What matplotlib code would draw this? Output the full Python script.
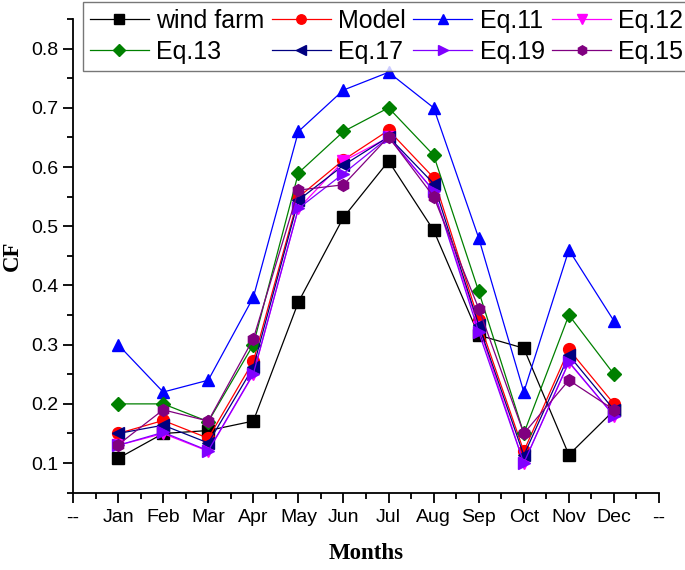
import numpy as np
import matplotlib
matplotlib.use("Agg")
import matplotlib.pyplot as plt
from matplotlib.ticker import MultipleLocator

months = ["Jan", "Feb", "Mar", "Apr", "May", "Jun", "Jul", "Aug", "Sep", "Oct", "Nov", "Dec"]

wind_farm = [0.108, 0.150, 0.155, 0.171, 0.372, 0.515, 0.610, 0.493, 0.316, 0.294, 0.114, 0.189]
model = [0.150, 0.172, 0.142, 0.272, 0.549, 0.612, 0.662, 0.582, 0.341, 0.120, 0.292, 0.200]
eq11 = [0.300, 0.220, 0.240, 0.380, 0.660, 0.730, 0.760, 0.700, 0.480, 0.220, 0.460, 0.340]
eq12 = [0.130, 0.150, 0.120, 0.250, 0.530, 0.610, 0.650, 0.560, 0.330, 0.100, 0.270, 0.180]
eq13 = [0.200, 0.200, 0.170, 0.300, 0.590, 0.660, 0.700, 0.620, 0.390, 0.150, 0.350, 0.250]
eq17 = [0.150, 0.164, 0.134, 0.262, 0.544, 0.603, 0.651, 0.572, 0.333, 0.113, 0.282, 0.190]
eq19 = [0.130, 0.152, 0.121, 0.251, 0.530, 0.589, 0.650, 0.560, 0.321, 0.100, 0.271, 0.180]
eq15 = [0.131, 0.190, 0.171, 0.310, 0.561, 0.570, 0.651, 0.550, 0.361, 0.150, 0.240, 0.190]

series = [
    ("wind farm", wind_farm, "black", "s"),
    ("Model", model, "red", "o"),
    ("Eq.11", eq11, "#0000ff", "^"),
    ("Eq.12", eq12, "#ff00ff", "v"),
    ("Eq.13", eq13, "#008000", "D"),
    ("Eq.17", eq17, "#000080", "<"),
    ("Eq.19", eq19, "#8000ff", ">"),
    ("Eq.15", eq15, "#800080", "h"),
]

plt.rcParams["font.family"] = ["Liberation Sans", "DejaVu Sans"]

fig = plt.figure(figsize=(6.85, 5.70), dpi=100)
ax = fig.add_axes([0.1066, 0.1356, 0.8555, 0.8311])

x = np.arange(1, 13)
handles = []
for name, vals, col, mk in series:
    ms = 8.5 if mk != "D" else 7.5
    h, = ax.plot(x, vals, color=col, marker=mk, markersize=ms, linewidth=0.9,
                 label=name)
    handles.append(h)

ax.set_xlim(0, 13)
ax.set_ylim(0.05, 0.85)
ax.set_xticks(range(0, 14))
ax.set_xticklabels(["--"] + months + ["--"])
ax.xaxis.set_minor_locator(MultipleLocator(0.5))
ax.yaxis.set_major_locator(MultipleLocator(0.1))
ax.yaxis.set_minor_locator(MultipleLocator(0.05))
ax.yaxis.set_major_formatter(plt.FuncFormatter(lambda v, p: f"{v:.1f}"))

for s in ["top", "right"]:
    ax.spines[s].set_visible(False)
for s in ["left", "bottom"]:
    ax.spines[s].set_linewidth(1.3)

ax.tick_params(which="major", direction="out", length=7, width=1.3, labelsize=14)
ax.tick_params(which="minor", direction="out", length=4, width=1.3)
ax.tick_params(axis="x", pad=5)

ax.set_xlabel("Months", fontfamily="Liberation Serif", fontweight="bold", fontsize=16.5, labelpad=12)
ax.set_ylabel("CF", fontfamily="Liberation Serif", fontweight="bold", fontsize=16.5, labelpad=6)

# legend filled row by row like the original (matplotlib fills by column)
order = [0, 4, 1, 5, 2, 6, 3, 7]
leg = fig.legend([handles[i] for i in order], [series[i][0] for i in order],
                 loc="upper left", bbox_to_anchor=(0.121, 0.997), ncol=4,
                 fontsize=18, frameon=True, fancybox=False, edgecolor="#555555",
                 handlelength=2.35, handletextpad=0.3, columnspacing=0.3,
                 borderpad=0.28, labelspacing=0.3, borderaxespad=0,
                 markerscale=0.8)
leg.get_frame().set_linewidth(1.0)

fig.savefig("out.png", dpi=100)
